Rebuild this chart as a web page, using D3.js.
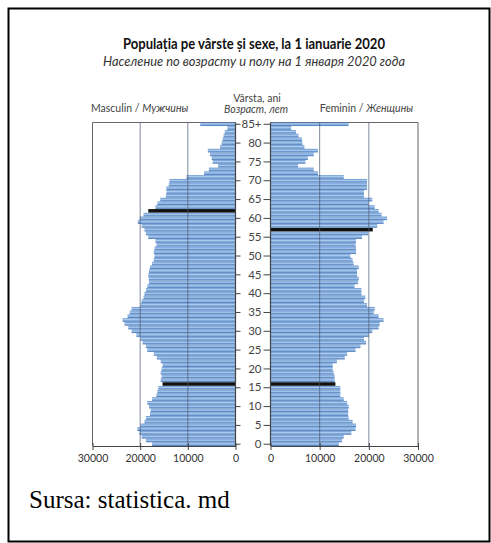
<!DOCTYPE html>
<html>
<head>
<meta charset="utf-8">
<script src="https://cdn.jsdelivr.net/npm/d3@7"></script>
<style>
  body { margin: 0; background: #fff; }
  text { font-family: "Liberation Sans Narrow", Lato, sans-serif; }
</style>
</head>
<body>
<div id="chart"></div>
<script>
// ages 0 .. 85+ (bottom to top)
const ages = d3.range(0, 86);
const ageTicks = [0, 5, 10, 15, 20, 25, 30, 35, 40, 45, 50, 55, 60, 65, 70, 75, 80, 85];
const valueTicks = [0, 10000, 20000, 30000];

// Masculin / Мужчины, age 0 .. 85+
const male = [
  17500, 18800, 19700, 20150, 20600, 19950, 19100, 18800, 17950, 17800,
  18150, 18500, 17500, 16600, 16400, 16200, 15300, 15700, 15500, 15700,
  15500, 15300, 15700, 16500, 17150, 18500, 18800, 19500, 19950, 20800,
  21800, 22500, 23300, 23700, 22650, 22200, 21800, 19950, 19700, 19300,
  19100, 18800, 18500, 18150, 18200, 18300, 18150, 17950, 17500, 17150,
  17000, 17150, 17000, 16600, 16800, 18300, 18800, 19100, 19700, 20500,
  20100, 19300, 18300, 16800, 16400, 15800, 14600, 14500, 14500, 14000,
  13840, 10300, 6600, 5600, 3650, 4800, 5000, 5350, 5800, 3250,
  2900, 2700, 2500, 2250, 1700, 7400
];

// Feminin / Женщины, age 0 .. 85+
const female = [
  13900, 14550, 14900, 16450, 17300, 17400, 16700, 15900, 15800, 15800,
  15900, 15600, 14900, 14200, 14200, 14200, 13200, 13050, 13050, 12850,
  12650, 12650, 13500, 15100, 15600, 17300, 18300, 19450, 19000, 20000,
  20700, 22000, 22200, 23000, 22000, 21000, 21200, 19650, 19000, 19300,
  18500, 18500, 17100, 17800, 17950, 17600, 17600, 17950, 16900, 16700,
  16250, 17400, 17400, 17300, 17400, 18600, 19850, 20800, 21700, 23000,
  23700, 22600, 22000, 21200, 20000, 20700, 19000, 19000, 19650, 19650,
  19650, 14900, 9650, 8800, 5600, 7100, 7600, 8800, 9650, 6900,
  6500, 6400, 5700, 5200, 4200, 15900
];

// ages drawn as black marker bars
const maleMarked = [16, 62];
const femaleMarked = [16, 57];

const W = 491, H = 543;
const plotTop = 122.5, plotBottom = 446;

const svg = d3.select("#chart").append("svg")
  .attr("width", W).attr("height", H);

svg.append("rect")
  .attr("x", 8.5).attr("y", 8.5)
  .attr("width", W - 10).attr("height", H - 10)
  .attr("fill", "#fff").attr("stroke", "#000").attr("stroke-width", 2);

const grad = svg.append("defs").append("linearGradient")
  .attr("id", "barGrad").attr("x1", 0).attr("y1", 0).attr("x2", 0).attr("y2", 1);
grad.append("stop").attr("offset", "0%").attr("stop-color", "#5587cc");
grad.append("stop").attr("offset", "40%").attr("stop-color", "#b2d0ef");
grad.append("stop").attr("offset", "100%").attr("stop-color", "#3c70b6");

const y = d3.scaleBand()
  .domain(ages)
  .range([plotBottom, plotTop])
  .paddingInner(0.06);

const xMale = d3.scaleLinear().domain([0, 30000]).range([235.5, 92.5]);
const xFemale = d3.scaleLinear().domain([0, 30000]).range([270.5, 418]);

function panel(x, values, marked, side) {
  const g = svg.append("g");
  const x0 = x(0), x3 = x(30000);

  // outer frame: top edge and far side
  g.append("path")
    .attr("d", `M${x0},${plotTop}H${x3}V${plotBottom}`)
    .attr("fill", "none").attr("stroke", "#666");

  g.selectAll("rect.bar")
    .data(ages)
    .join("rect")
    .attr("class", "bar")
    .attr("x", d => Math.min(x(0), x(values[d])))
    .attr("y", d => y(d))
    .attr("width", d => Math.abs(x(values[d]) - x(0)))
    .attr("height", y.bandwidth())
    .attr("fill", d => marked.includes(d) ? "#111" : "url(#barGrad)");

  // gridlines over the bars
  g.selectAll("line.grid")
    .data([10000, 20000])
    .join("line")
    .attr("class", "grid")
    .attr("x1", d => x(d)).attr("x2", d => x(d))
    .attr("y1", plotTop).attr("y2", plotBottom)
    .attr("stroke", "#4a5a70").attr("stroke-opacity", 0.7);

  const xAxis = g.append("g")
    .attr("transform", `translate(0,${plotBottom})`)
    .call(d3.axisBottom(x).tickValues(valueTicks).tickFormat(d3.format("d"))
      .tickSizeInner(4).tickSizeOuter(0).tickPadding(5));
  xAxis.select(".domain").attr("stroke", "#444").attr("stroke-width", 1.2);
  xAxis.selectAll(".tick line").attr("y1", -3).attr("stroke", "#444");
  xAxis.selectAll(".tick text").attr("font-size", 10.5).attr("fill", "#333");

  // age axis on the inner side
  const ageAxis = side === "left"
    ? d3.axisRight(y).tickValues(ageTicks).tickFormat("").tickSizeOuter(0).tickSize(5)
    : d3.axisLeft(y).tickValues(ageTicks).tickSizeOuter(0).tickSize(7).tickPadding(2)
        .tickFormat(d => d === 85 ? "85+" : d);
  const ag = g.append("g")
    .attr("transform", `translate(${x0},0)`)
    .call(ageAxis);
  ag.select(".domain").attr("stroke", "#444").attr("stroke-width", 1.2)
    .attr("d", `M0,${plotTop}V${plotBottom}`);
  ag.selectAll(".tick line").attr("stroke", "#444");
  ag.selectAll(".tick text").attr("font-size", 11.5).attr("fill", "#444");
}

panel(xMale, male, maleMarked, "left");
panel(xFemale, female, femaleMarked, "right");

// titles
svg.append("text")
  .attr("x", 254).attr("y", 49)
  .attr("text-anchor", "middle")
  .attr("font-size", 15).attr("font-weight", "bold").attr("fill", "#111")
  .attr("textLength", 262).attr("lengthAdjust", "spacingAndGlyphs")
  .text("Populația pe vârste și sexe, la 1 ianuarie 2020");

svg.append("text")
  .attr("x", 254).attr("y", 66)
  .attr("text-anchor", "middle")
  .attr("font-size", 13.5).attr("font-style", "italic").attr("fill", "#333")
  .attr("textLength", 302).attr("lengthAdjust", "spacingAndGlyphs")
  .text("Население по возрасту и полу на 1 января 2020 года");

svg.append("text")
  .attr("x", 257).attr("y", 102)
  .attr("text-anchor", "middle")
  .attr("font-size", 10.5).attr("fill", "#444")
  .text("Vârsta, ani");

svg.append("text")
  .attr("x", 256).attr("y", 113)
  .attr("text-anchor", "middle")
  .attr("font-size", 10.5).attr("font-style", "italic").attr("fill", "#444")
  .text("Возраст, лет");

const masc = svg.append("text")
  .attr("x", 91).attr("y", 112)
  .attr("font-size", 10.5).attr("fill", "#444");
masc.append("tspan").text("Masculin / ");
masc.append("tspan").attr("font-style", "italic").text("Мужчины");

const fem = svg.append("text")
  .attr("x", 413).attr("y", 112)
  .attr("text-anchor", "end")
  .attr("font-size", 10.5).attr("fill", "#444");
fem.append("tspan").text("Feminin / ");
fem.append("tspan").attr("font-style", "italic").text("Женщины");

svg.append("text")
  .attr("x", 29).attr("y", 508)
  .attr("font-size", 25).attr("fill", "#000")
  .style("font-family", "'Liberation Serif', 'Times New Roman', serif")
  .text("Sursa: statistica. md");
</script>
</body>
</html>
